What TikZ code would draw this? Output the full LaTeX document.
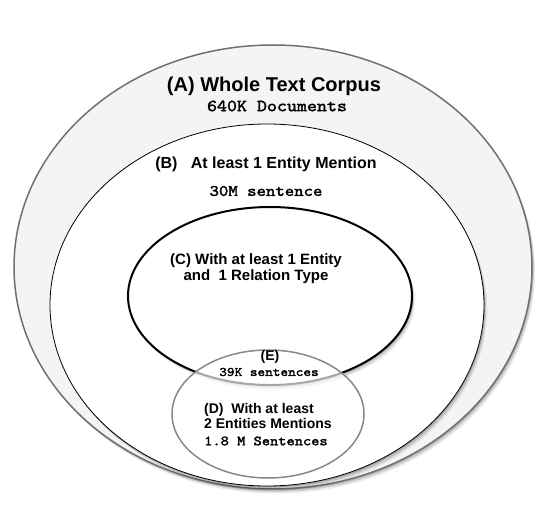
\documentclass[tikz,border=0pt]{standalone}
\usepackage{fontspec}
\setmainfont{Liberation Sans}
\newfontfamily\corpusmono[FakeStretch=1.12,FakeBold=2]{lmmono10-regular.otf}
\usepackage{tikz}
\usetikzlibrary{positioning,shapes.geometric,shadows}
\definecolor{ringgray}{HTML}{707070}
\definecolor{corpusfill}{HTML}{F4F4F4}
\definecolor{subgray}{HTML}{888888}
\tikzset{
  softshadow/.style={drop shadow={shadow xshift=1pt,shadow yshift=-1.5pt,opacity=.16,fill=black},
    drop shadow={shadow xshift=2pt,shadow yshift=-3pt,opacity=.12,fill=black},
    drop shadow={shadow xshift=3pt,shadow yshift=-4.5pt,opacity=.08,fill=black}},
  setring/.style={ellipse,inner sep=0pt,outer sep=0pt},
  setname/.style={font=\bfseries\fontsize{#1}{1.08\dimexpr#1pt\relax}\selectfont,inner sep=0pt},
  setcount/.style={font=\corpusmono\fontsize{#1}{#1}\selectfont,inner sep=0pt}
}

\begin{document}
\begin{tikzpicture}[x=1pt,y=-1pt]
    \useasboundingbox (0,0) rectangle (549,508);

    % nested sets
    \node [setring,draw=ringgray,line width=1.5pt,fill=corpusfill,softshadow,
           minimum width=518pt,minimum height=444pt] (setA) at (273,267) {};
    \node [setring,draw=black,line width=.8pt,fill=white,softshadow,
           minimum width=434pt,minimum height=362pt] (setB) at (267,305) {};
    \node [setring,draw=black,line width=2pt,fill=white,softshadow,
           minimum width=284pt,minimum height=178pt] (setC) at (270,296) {};
    \node [setring,draw=subgray,line width=1.5pt,fill=white,fill opacity=.65,
           minimum width=192pt,minimum height=128pt] (setD) at (268,414) {};

    % labels
    \node [setname=20] (nameA) at (274,86) {(A) Whole Text Corpus};
    \node [setcount=17] (countA) at (277,106) {640K Documents};
    \node [setname=16] (nameB) at (266,164) {(B)\ \ \ At least 1 Entity Mention};
    \node [setcount=16] (countB) at (266,191) {30M sentence};
    \node [setname=15,align=center] (nameC) at (256,269) {(C) With at least 1 Entity\\ and\ \ 1 Relation Type};
    \node [setname=14] (nameE) at (270,357) {(E)};
    \node [setcount=13] (countE) at (269,372) {39K sentences};
    \node [setname=14,align=left,anchor=west] (nameD) at (204,416) {(D)\ \ With at least\\2 Entities Mentions};
    \node [setcount=14,anchor=west] (countD) at (204,441) {1.8 M Sentences};

\end{tikzpicture}
\end{document}
